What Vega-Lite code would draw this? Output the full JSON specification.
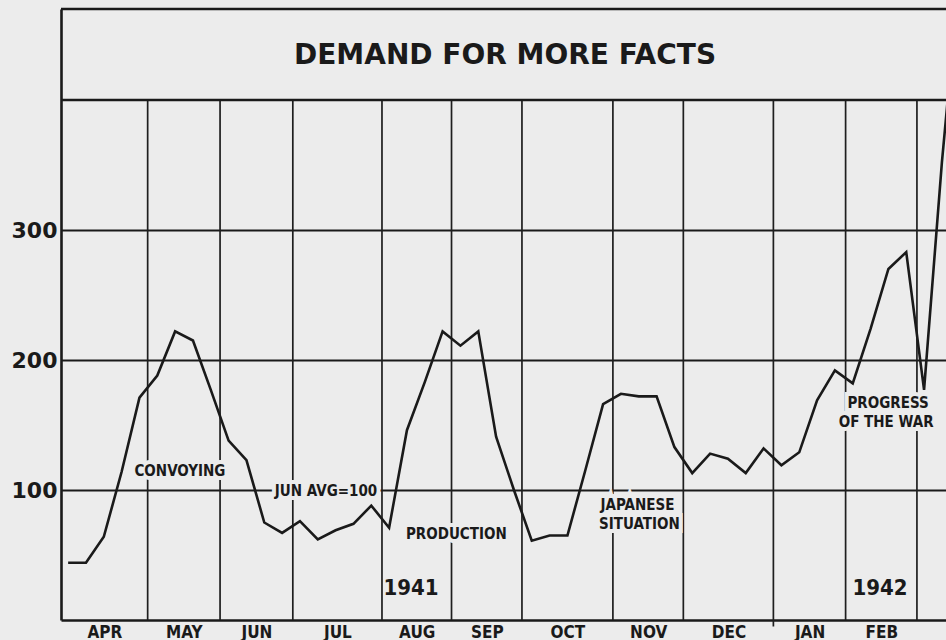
{
  "$schema": "https://vega.github.io/schema/vega-lite/v6.json",
  "width": 885,
  "height": 611,
  "autosize": {"type": "none"},
  "padding": {"left": 61, "top": 9, "right": 0, "bottom": 20},
  "background": "#ececec",
  "config": {"view": {"stroke": null}},
  "datasets": {
    "series": [
      {"week": 0.4, "value": 44}, {"week": 1.4, "value": 44}, {"week": 2.4, "value": 64},
      {"week": 3.4, "value": 114}, {"week": 4.4, "value": 171}, {"week": 5.4, "value": 188},
      {"week": 6.4, "value": 222}, {"week": 7.4, "value": 215}, {"week": 8.4, "value": 177},
      {"week": 9.4, "value": 138}, {"week": 10.4, "value": 123}, {"week": 11.4, "value": 75},
      {"week": 12.4, "value": 67}, {"week": 13.4, "value": 76}, {"week": 14.4, "value": 62},
      {"week": 15.4, "value": 69}, {"week": 16.4, "value": 74}, {"week": 17.4, "value": 88},
      {"week": 18.4, "value": 71}, {"week": 19.4, "value": 146}, {"week": 20.4, "value": 183},
      {"week": 21.4, "value": 222}, {"week": 22.4, "value": 211}, {"week": 23.4, "value": 222},
      {"week": 24.4, "value": 141}, {"week": 25.4, "value": 100}, {"week": 26.4, "value": 61},
      {"week": 27.4, "value": 65}, {"week": 28.4, "value": 65}, {"week": 29.4, "value": 115},
      {"week": 30.4, "value": 166}, {"week": 31.4, "value": 174}, {"week": 32.4, "value": 172},
      {"week": 33.4, "value": 172}, {"week": 34.4, "value": 133}, {"week": 35.4, "value": 113},
      {"week": 36.4, "value": 128}, {"week": 37.4, "value": 124}, {"week": 38.4, "value": 113},
      {"week": 39.4, "value": 132}, {"week": 40.4, "value": 119}, {"week": 41.4, "value": 129},
      {"week": 42.4, "value": 169}, {"week": 43.4, "value": 192}, {"week": 44.4, "value": 182},
      {"week": 45.4, "value": 224}, {"week": 46.4, "value": 270}, {"week": 47.4, "value": 283},
      {"week": 48.4, "value": 177}, {"week": 49.4, "value": 352}, {"week": 50.4, "value": 500}
    ],
    "boundaries": [
      {"week": 4.86}, {"week": 8.92}, {"week": 13}, {"week": 18}, {"week": 21.9},
      {"week": 25.85}, {"week": 30.95}, {"week": 34.9}, {"week": 39.95}, {"week": 44}, {"week": 48}
    ],
    "yearbreak": [{"week": 39.95}],
    "frame": [{"edge": "box bottom", "value": 400}, {"edge": "box top", "value": 470}],
    "notes": [
      {"week": 6.67, "value": 115, "label": "CONVOYING"},
      {"week": 14.86, "value": 99.5, "label": "JUN AVG=100"},
      {"week": 22.17, "value": 66, "label": "PRODUCTION"},
      {"week": 32.33, "value": 88.5, "label": "JAPANESE"},
      {"week": 32.44, "value": 74, "label": "SITUATION"},
      {"week": 46.38, "value": 167, "label": "PROGRESS"},
      {"week": 46.27, "value": 152, "label": "OF THE WAR"}
    ],
    "years": [
      {"week": 19.63, "value": 24.6, "label": "1941"},
      {"week": 45.93, "value": 24.6, "label": "1942"}
    ],
    "heading": [{"week": 24.9, "value": 434, "label": "DEMAND FOR MORE FACTS"}]
  },
  "layer": [
    {
      "data": {"name": "boundaries"},
      "mark": {"type": "rule", "stroke": "#1e1e1e", "strokeWidth": 1.7},
      "encoding": {
        "x": {"field": "week", "type": "quantitative", "scale": {"domain": [0, 49.63], "nice": false, "zero": false}},
        "y": {"datum": 0, "scale": {"domain": [0, 470], "nice": false}},
        "y2": {"datum": 400}
      }
    },
    {
      "data": {"name": "yearbreak"},
      "mark": {"type": "rule", "stroke": "#1e1e1e", "strokeWidth": 1.7},
      "encoding": {
        "x": {"field": "week", "type": "quantitative", "scale": {"domain": [0, 49.63], "nice": false, "zero": false}},
        "y": {"datum": -5, "scale": {"domain": [0, 470], "nice": false}},
        "y2": {"datum": 0}
      }
    },
    {
      "data": {"name": "frame"},
      "mark": {"type": "rule", "stroke": "#1a1a1a", "strokeWidth": 2.6},
      "encoding": {
        "y": {"field": "value", "type": "quantitative", "scale": {"domain": [0, 470], "nice": false}}
      }
    },
    {
      "data": {"name": "notes"},
      "mark": {"type": "text", "font": "DejaVu Sans Condensed", "fontWeight": "bold", "fontSize": 15, "align": "center", "baseline": "middle", "fill": "#ececec", "stroke": "#ececec", "strokeWidth": 8},
      "encoding": {
        "x": {"field": "week", "type": "quantitative", "scale": {"domain": [0, 49.63], "nice": false, "zero": false}},
        "y": {"field": "value", "type": "quantitative", "scale": {"domain": [0, 470], "nice": false}},
        "text": {"field": "label"}
      }
    },
    {
      "data": {"name": "series"},
      "mark": {"type": "line", "stroke": "#1a1a1a", "strokeWidth": 2.6, "clip": true},
      "encoding": {
        "x": {
          "field": "week", "type": "quantitative",
          "scale": {"domain": [0, 49.63], "nice": false, "zero": false},
          "axis": {
            "title": null,
            "values": [2.43, 6.89, 10.96, 15.5, 19.95, 23.88, 28.4, 32.93, 37.43, 41.98, 46.0],
            "labelExpr": "datum.value < 4.86 ? 'APR' : datum.value < 8.92 ? 'MAY' : datum.value < 13 ? 'JUN' : datum.value < 18 ? 'JUL' : datum.value < 21.9 ? 'AUG' : datum.value < 25.85 ? 'SEP' : datum.value < 30.95 ? 'OCT' : datum.value < 34.9 ? 'NOV' : datum.value < 39.95 ? 'DEC' : datum.value < 44 ? 'JAN' : 'FEB'",
            "grid": false,
            "ticks": false,
            "domainColor": "#1a1a1a",
            "domainWidth": 2.6,
            "labelFont": "DejaVu Sans Condensed",
            "labelFontWeight": "bold",
            "labelFontSize": 17,
            "labelColor": "#1a1a1a",
            "labelPadding": 4,
            "labelOverlap": false,
            "labelBound": false,
            "labelFlush": false
          }
        },
        "y": {
          "field": "value", "type": "quantitative",
          "scale": {"domain": [0, 470], "nice": false},
          "axis": {
            "title": null,
            "values": [100, 200, 300],
            "grid": true,
            "gridColor": "#1a1a1a",
            "gridWidth": 2,
            "gridOpacity": 1,
            "ticks": false,
            "domainColor": "#1a1a1a",
            "domainWidth": 2.6,
            "labelFont": "DejaVu Sans",
            "labelFontWeight": "bold",
            "labelFontSize": 22,
            "labelColor": "#1a1a1a",
            "labelPadding": 4
          }
        }
      }
    },
    {
      "data": {"name": "notes"},
      "mark": {"type": "text", "font": "DejaVu Sans Condensed", "fontWeight": "bold", "fontSize": 15, "align": "center", "baseline": "middle", "fill": "#1a1a1a"},
      "encoding": {
        "x": {"field": "week", "type": "quantitative", "scale": {"domain": [0, 49.63], "nice": false, "zero": false}},
        "y": {"field": "value", "type": "quantitative", "scale": {"domain": [0, 470], "nice": false}},
        "text": {"field": "label"}
      }
    },
    {
      "data": {"name": "years"},
      "mark": {"type": "text", "font": "DejaVu Sans Condensed", "fontWeight": "bold", "fontSize": 22, "align": "center", "baseline": "middle", "fill": "#1a1a1a"},
      "encoding": {
        "x": {"field": "week", "type": "quantitative", "scale": {"domain": [0, 49.63], "nice": false, "zero": false}},
        "y": {"field": "value", "type": "quantitative", "scale": {"domain": [0, 470], "nice": false}},
        "text": {"field": "label"}
      }
    },
    {
      "data": {"name": "heading"},
      "mark": {"type": "text", "font": "DejaVu Sans", "fontWeight": "bold", "fontSize": 28, "align": "center", "baseline": "middle", "fill": "#1a1a1a"},
      "encoding": {
        "x": {"field": "week", "type": "quantitative", "scale": {"domain": [0, 49.63], "nice": false, "zero": false}},
        "y": {"field": "value", "type": "quantitative", "scale": {"domain": [0, 470], "nice": false}},
        "text": {"field": "label"}
      }
    }
  ]
}
